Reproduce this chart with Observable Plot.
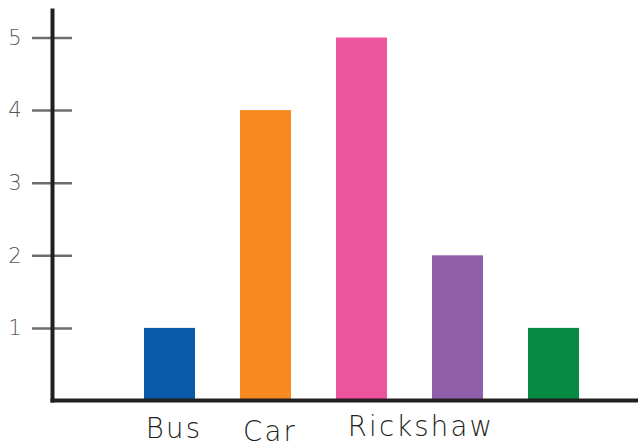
<!DOCTYPE html>
<html>
<head>
<meta charset="utf-8">
<script src="https://cdn.jsdelivr.net/npm/d3@7"></script>
<script src="https://cdn.jsdelivr.net/npm/@observablehq/plot@0.6"></script>
<style>
  html, body { margin: 0; padding: 0; background: #fff; }
  #chart svg { display: block; }
  #chart g[aria-label="text"] text { letter-spacing: 2.2px; }
</style>
</head>
<body>
<div id="chart"></div>
<script>
// Data
const categories = ["Bus", "Car", "Rickshaw", "Bar 4", "Bar 5"];
const values = [1, 4, 5, 2, 1];
const colors = ["#0b5aaa", "#f7891f", "#ec559d", "#8f5ea8", "#078a41"];
const yTicks = [1, 2, 3, 4, 5];
const xLabels = ["Bus", "Car", "Rickshaw"];

const data = categories.map((c, i) => ({category: c, value: values[i], color: colors[i]}));

// per-label offsets (styling): [dx, dy]
const labelOffsets = [[4, 37], [4, 40], [59, 35]];
const labelFont = "'DejaVu Sans', sans-serif";

const labelMarks = xLabels.map((lab, i) =>
  Plot.text([lab], {
    x: d => d,
    text: d => d,
    frameAnchor: "bottom",
    lineAnchor: "bottom",
    textAnchor: "middle",
    dx: labelOffsets[i][0],
    dy: labelOffsets[i][1],
    fontSize: 27.5,
    fontWeight: 300,
    fill: "#231f20",
    fontFamily: labelFont
  })
);

const chart = Plot.plot({
  width: 638,
  height: 445,
  marginLeft: 52,
  marginRight: 2,
  marginTop: 10,
  marginBottom: 45,
  style: {background: "#fff", fontFamily: labelFont},
  x: {domain: categories, range: [119.6, 603.4], paddingInner: 0.473, paddingOuter: 0.2365, axis: null},
  y: {domain: [0, 5], range: [400.5, 37.5]},
  marks: [
    Plot.barY(data, {x: "category", y: "value", fill: "color"}),
    Plot.axisY({ticks: yTicks, tickSize: 40, dx: 20, tickFormat: () => "", label: null, stroke: "#6d6e71", strokeWidth: 2.5, strokeOpacity: 1}),
    Plot.axisY({ticks: yTicks, tickSize: 0, tickPadding: 31, tickFormat: d => String(d), label: null, fontSize: 21, fill: "#58595b", fontWeight: 300, fontFamily: labelFont}),
    Plot.frame({anchor: "left", stroke: "#231f20", strokeWidth: 4}),
    Plot.frame({anchor: "bottom", stroke: "#231f20", strokeWidth: 4}),
    ...labelMarks
  ]
});
document.getElementById("chart").appendChild(chart);
</script>
</body>
</html>
